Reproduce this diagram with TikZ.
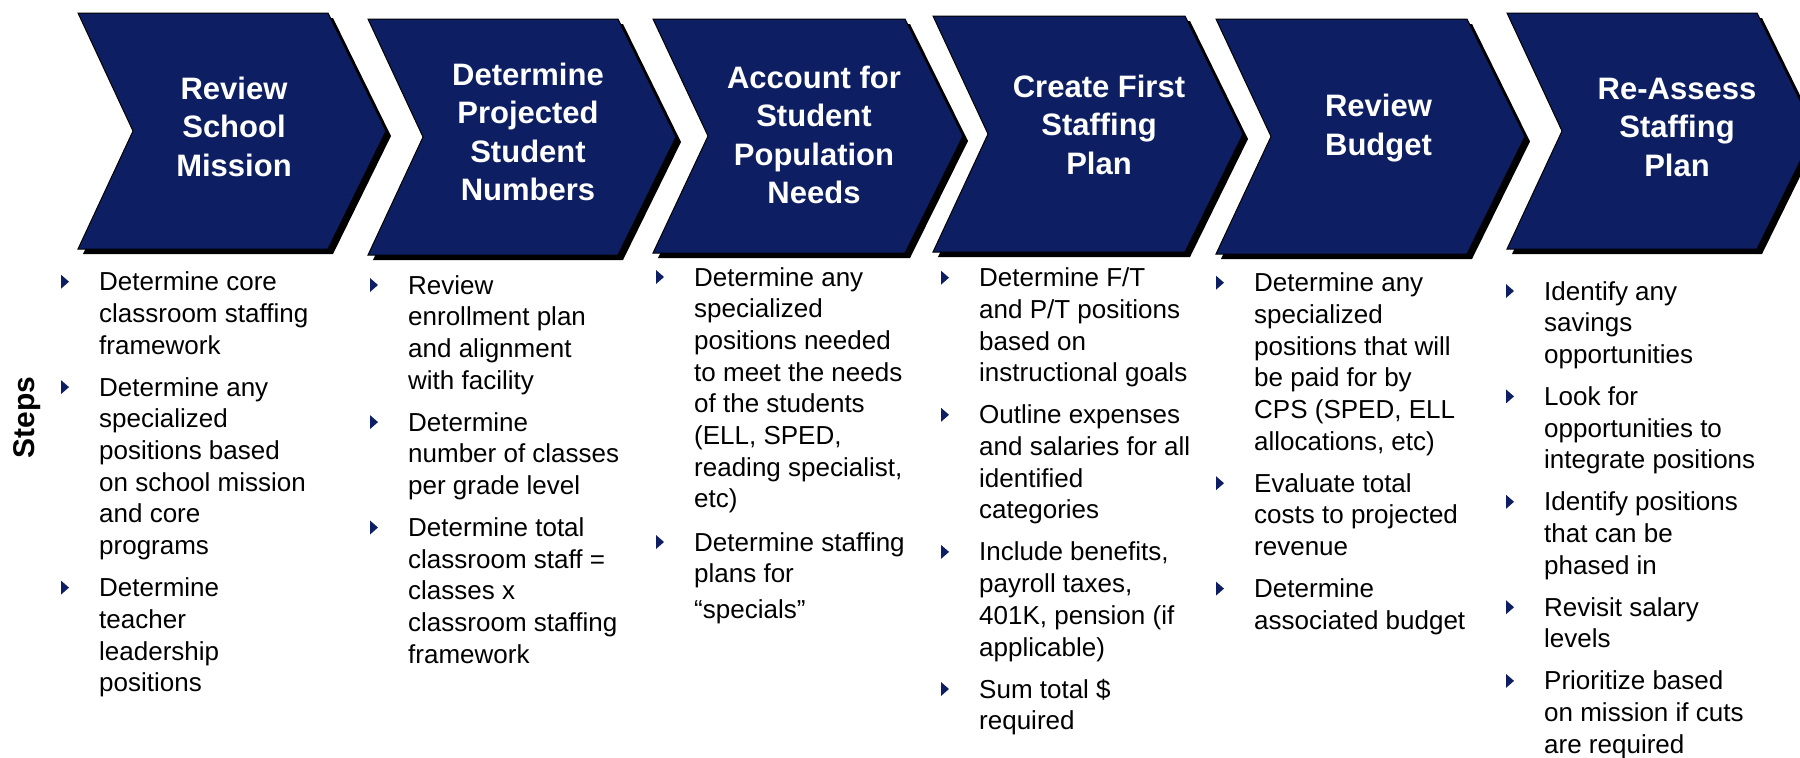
\documentclass[tikz,border=0pt]{standalone}
\usepackage{fontspec}
\setmainfont{Liberation Sans}
\definecolor{navy}{RGB}{13,31,98}

% chevron: left x, top y, right x, bottom y (tip and notch derived)
\newcommand\chevshape[4]{%
  \pgfmathsetmacro\chevmid{(#2+#4)/2}%
  \pgfmathsetmacro\chevtip{#3+58}%
  \pgfmathsetmacro\chevnotch{#1+55}%
  \begin{scope}[shift={(5,5)}]
    \fill[black] (#1,#2) -- (#3,#2) -- (\chevtip,\chevmid) -- (#3,#4) -- (#1,#4) -- (\chevnotch,\chevmid) -- cycle;
  \end{scope}
  \draw[chev] (#1,#2) -- (#3,#2) -- (\chevtip,\chevmid) -- (#3,#4) -- (#1,#4) -- (\chevnotch,\chevmid) -- cycle;
}

% chevron title: name, centre x, first baseline y, number of lines, text
% (a multi-line node sits on the baseline of its last line)
\newcommand\steptitle[5]{%
  \node[title] (#1) at (#2,{#3+(#4-1)*38.5}) {#5};
}

% bullet item: name, text x, first baseline y, number of lines, text
\newcommand\stepitem[5]{%
  \node[item] (#1) at (#2,{#3+(#4-1)*31.7}) {#5};
  \fill[navy] (#2-38,#3-16) -- (#2-30,#3-9) -- (#2-38,#3-2) -- cycle;
}

\begin{document}
\begin{tikzpicture}[x=1pt,y=-1pt,
  chev/.style={fill=navy, draw=black, line width=1pt, line join=miter},
  title/.style={text=white, font=\bfseries\fontsize{31}{38.5}\selectfont,
    align=center, anchor=base, inner sep=0pt},
  item/.style={text=black, font=\fontsize{26}{31.7}\selectfont,
    align=left, anchor=base west, inner sep=0pt},
  side/.style={text=black, font=\bfseries\fontsize{30}{36}\selectfont,
    rotate=90, inner sep=0pt}
]
\useasboundingbox (0,0) rectangle (1800,758);
\clip (0,0) rectangle (1800,758);
\fill[white] (0,0) rectangle (1800,758);

% process chevrons
\chevshape{78}{13}{328}{249}
\chevshape{368}{19}{618}{255}
\chevshape{653}{19}{905}{253}
\chevshape{933}{16}{1185}{252}
\chevshape{1216}{19}{1467}{254}
\chevshape{1507}{13}{1757}{249}

\steptitle{t1}{234}{99}{3}{Review\\School\\Mission}
\steptitle{t2}{528}{85}{4}{Determine\\Projected\\Student\\Numbers}
\steptitle{t3}{814}{88.3}{4}{Account for\\Student\\Population\\Needs}
\steptitle{t4}{1099}{97.3}{3}{Create First\\Staffing\\Plan}
\steptitle{t5}{1378.5}{116.7}{2}{Review\\Budget}
\steptitle{t6}{1677}{99}{3}{Re-Assess\\Staffing\\Plan}

\node[side] (steps) at (27.5,417.5) {Steps};

% column 1
\stepitem{a1}{99}{290.7}{3}{Determine core\\classroom staffing\\framework}
\stepitem{a2}{99}{396.1}{6}{Determine any\\specialized\\positions based\\on school mission\\and core\\programs}
\stepitem{a3}{99}{596.6}{4}{Determine\\teacher\\leadership\\positions}

% column 2
\stepitem{b1}{408}{294}{4}{Review\\enrollment plan\\and alignment\\with facility}
\stepitem{b2}{408}{431.1}{3}{Determine\\number of classes\\per grade level}
\stepitem{b3}{408}{536.5}{5}{Determine total\\classroom staff =\\classes x\\classroom staffing\\framework}

% column 3 (the last line of its second item sits a little lower)
\stepitem{c1}{694}{286}{8}{Determine any\\specialized\\positions needed\\to meet the needs\\of the students\\(ELL, SPED,\\reading specialist,\\etc)}
\node[item] (c2) at (694,{551+2*31.7+4}) {Determine staffing\\plans for\\[4pt]“specials”};
\fill[navy] (694-38,551-16) -- (694-30,551-9) -- (694-38,551-2) -- cycle;

% column 4
\stepitem{d1}{979}{286.7}{4}{Determine F/T\\and P/T positions\\based on\\instructional goals}
\stepitem{d2}{979}{423.8}{4}{Outline expenses\\and salaries for all\\identified\\categories}
\stepitem{d3}{979}{560.9}{4}{Include benefits,\\payroll taxes,\\401K, pension (if\\applicable)}
\stepitem{d4}{979}{698}{2}{Sum total \$\\required}

% column 5
\stepitem{e1}{1254}{291.7}{6}{Determine any\\specialized\\positions that will\\be paid for by\\CPS (SPED, ELL\\allocations, etc)}
\stepitem{e2}{1254}{492.2}{3}{Evaluate total\\costs to projected\\revenue}
\stepitem{e3}{1254}{597.6}{2}{Determine\\associated budget}

% column 6
\stepitem{f1}{1544}{300}{3}{Identify any\\savings\\opportunities}
\stepitem{f2}{1544}{405.4}{3}{Look for\\opportunities to\\integrate positions}
\stepitem{f3}{1544}{510.8}{3}{Identify positions\\that can be\\phased in}
\stepitem{f4}{1544}{616.2}{2}{Revisit salary\\levels}
\stepitem{f5}{1544}{689.9}{3}{Prioritize based\\on mission if cuts\\are required}
\end{tikzpicture}
\end{document}
